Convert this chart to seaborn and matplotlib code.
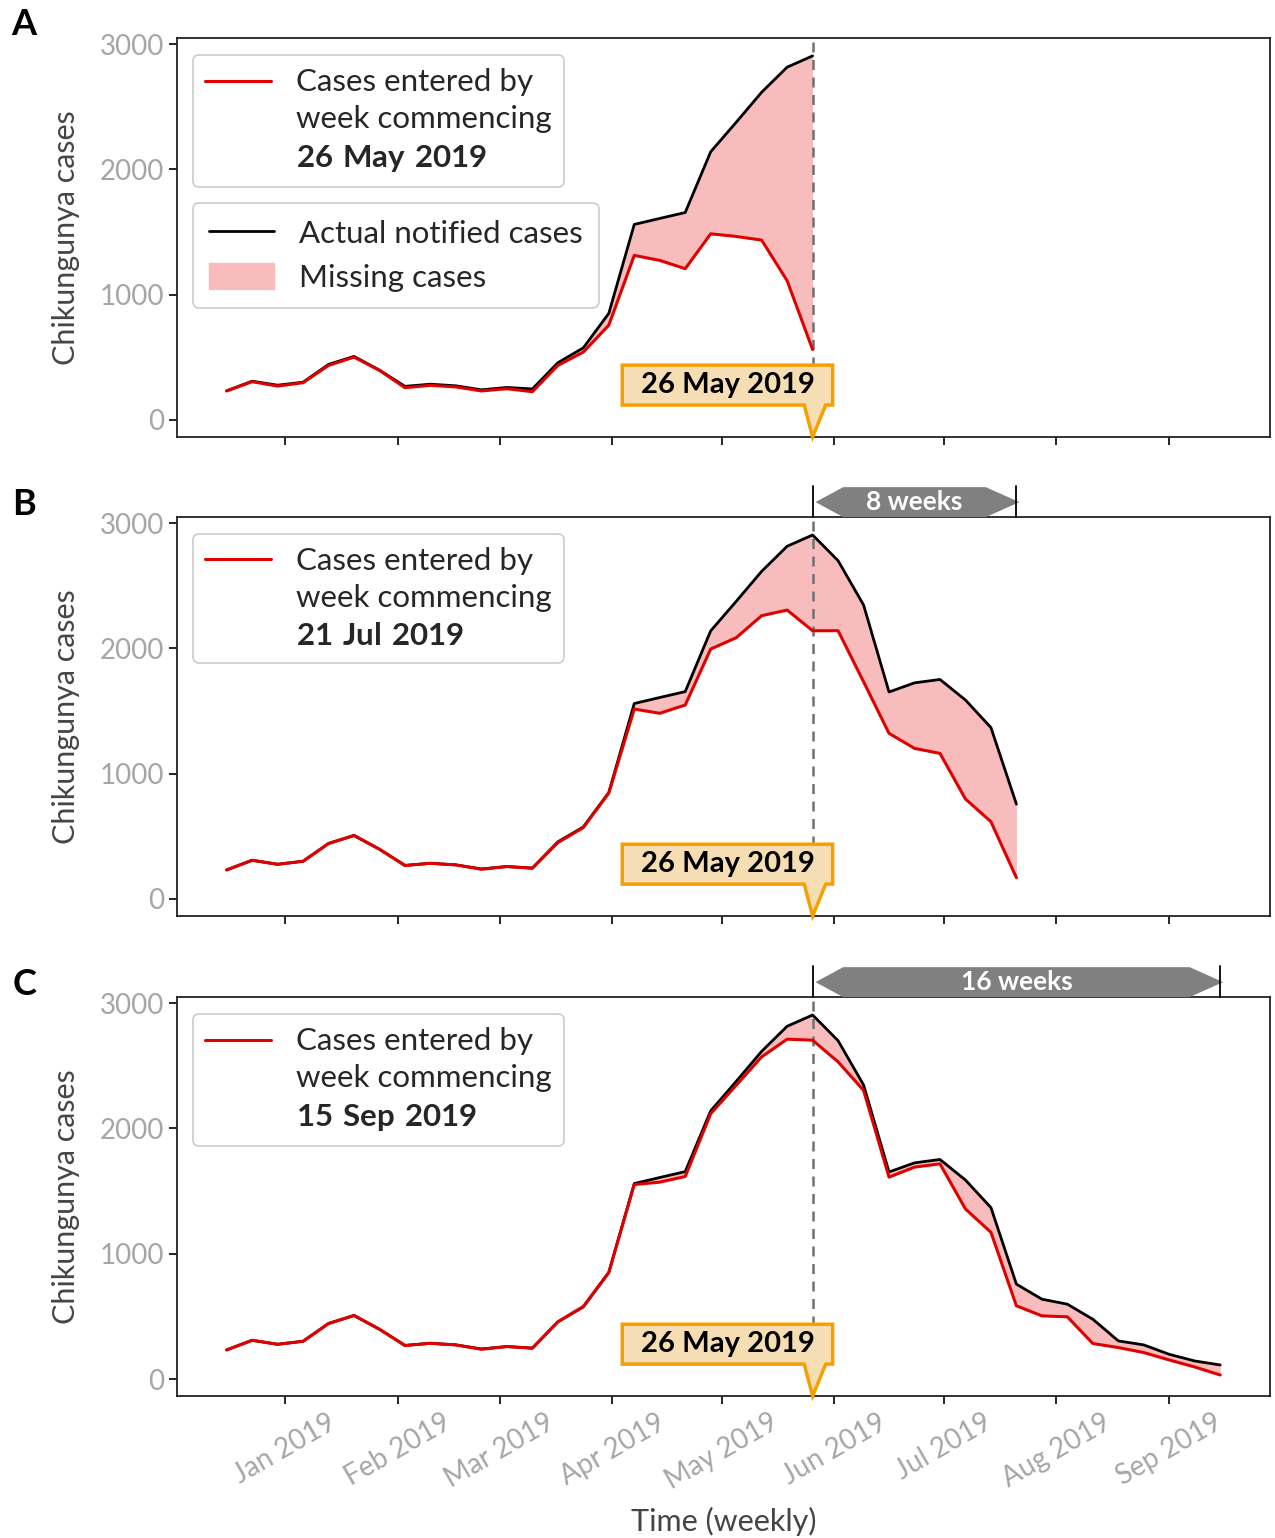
import numpy as np
import pandas as pd
import matplotlib
matplotlib.use('Agg')
import matplotlib.pyplot as plt
import matplotlib.dates as mdates
import matplotlib.transforms as mtransforms
from matplotlib.patches import Polygon, Patch
from matplotlib.lines import Line2D
from matplotlib.legend_handler import HandlerLine2D
import seaborn as sns

# ---------------- data ----------------
weeks = pd.date_range('2018-12-16', periods=40, freq='7D')

actual = [232, 309, 277, 301, 443, 507, 397, 268, 285, 272,
          240, 259, 247, 456, 575, 850, 1560, 1608, 1655, 2140,
          2375, 2615, 2815, 2905, 2700, 2347, 1652, 1725, 1752, 1588,
          1368, 757, 637, 597, 477, 304, 272, 197, 144, 112]

entered_26may = [231, 305, 270, 297, 435, 501, 395, 257, 276, 263,
                 231, 249, 225, 435, 541, 756, 1313, 1273, 1207, 1485,
                 1464, 1435, 1111, 562]

entered_21jul = [232, 309, 277, 301, 443, 507, 397, 267, 285, 272,
                 237, 259, 245, 450, 570, 845, 1516, 1482, 1548, 1995,
                 2085, 2261, 2306, 2141, 2141, 1734, 1322, 1202, 1162, 798,
                 617, 170]

entered_15sep = [232, 309, 277, 301, 443, 507, 397, 267, 285, 272,
                 237, 259, 245, 456, 579, 850, 1552, 1571, 1616, 2117,
                 2344, 2571, 2712, 2704, 2531, 2304, 1611, 1691, 1717, 1357,
                 1171, 584, 504, 496, 283, 251, 211, 152, 96, 32]

panel_letters = ['A', 'B', 'C']
report_dates = ['26 May 2019', '21 Jul 2019', '15 Sep 2019']
entered_series = [entered_26may, entered_21jul, entered_15sep]
weeks_after = [0, 8, 16]
cutoff_label = '26 May 2019'
cutoff = pd.Timestamp('2019-05-26')
month_ticks = pd.date_range('2019-01-01', '2019-09-01', freq='MS')
y_ticks = [0, 1000, 2000, 3000]

# ---------------- style ----------------
sns.set_style('ticks')
plt.rcParams['font.family'] = ['Lato', 'DejaVu Sans']
plt.rcParams['mathtext.fontset'] = 'custom'
plt.rcParams['mathtext.rm'] = 'Lato'
plt.rcParams['mathtext.bf'] = 'Lato:bold'

RED = '#e00000'
FILL = '#f8bcbd'
TICKGRAY = '#a6a6a6'
LABELGRAY = '#454545'


class TopLineHandler(HandlerLine2D):
    """Place the legend line next to the first text line."""
    def __init__(self, shift, **kw):
        super().__init__(**kw)
        self.shift = shift

    def create_artists(self, legend, orig_handle, xdescent, ydescent, width,
                       height, fontsize, trans):
        arts = super().create_artists(legend, orig_handle, xdescent, ydescent,
                                      width, height, fontsize, trans)
        for a in arts:
            a.set_ydata(np.asarray(a.get_ydata()) + self.shift)
        return arts


fig = plt.figure(figsize=(12.75, 15.38), dpi=100)
ax_left, ax_w, ax_h = 0.1388, 0.996 - 0.1388, 0.2594
bottoms = [0.7159, 0.4044, 0.0923]
axes = []
for i, b in enumerate(bottoms):
    ax = fig.add_axes([ax_left, b, ax_w, ax_h], sharex=axes[0] if axes else None)
    axes.append(ax)

cut_num = mdates.date2num(cutoff)
span = mdates.date2num(weeks[-1]) - mdates.date2num(weeks[0])
x_lo = mdates.date2num(weeks[0]) - 0.05 * span
x_hi = mdates.date2num(weeks[-1]) + 0.05 * span

for k, ax in enumerate(axes):
    red = np.array(entered_series[k], dtype=float)
    n = len(red)
    x = weeks[:n]
    act = np.array(actual[:n], dtype=float)

    ax.fill_between(x, red, act, color=FILL, lw=0, zorder=1)
    sns.lineplot(x=x, y=act, ax=ax, color='black', lw=2.0, zorder=3, legend=False)
    sns.lineplot(x=x, y=red, ax=ax, color=RED, lw=2.2, zorder=4, legend=False)

    ax.axvline(cutoff, color='#707070', ls='--', lw=1.8, zorder=2, dashes=(4, 3))

    ax.set_ylim(-136, 3048)
    ax.set_xlim(x_lo, x_hi)
    ax.set_yticks(y_ticks)
    ax.set_xticks(month_ticks)
    ax.xaxis.set_major_formatter(mdates.DateFormatter('%b %Y'))
    ax.tick_params(axis='both', colors='black', labelcolor=TICKGRAY,
                   labelsize=20, length=6, width=1.2, direction='out')
    for sp in ax.spines.values():
        sp.set_visible(True)
        sp.set_color('#222222')
        sp.set_linewidth(1.3)
    ax.set_ylabel('Chikungunya cases', fontsize=22, color=LABELGRAY, labelpad=14)
    ax.set_xlabel('')

    # legends
    h1 = Line2D([], [], color=RED, lw=2.2)
    lab1 = 'Cases entered by\nweek commencing\n' + r'$\mathbf{' + report_dates[k].replace(' ', r'\ ') + '}$'
    leg1 = ax.legend([h1], [lab1], loc='upper left', bbox_to_anchor=(0.0146, 0.957),
                     fontsize=22.5, frameon=True, fancybox=True, edgecolor='#cccccc',
                     framealpha=1, handlelength=2.1, handletextpad=0.8, borderaxespad=0,
                     borderpad=0.4, handler_map={h1: TopLineHandler(shift=29)})
    leg1.get_texts()[0].set_linespacing(1.42)
    leg1.get_frame().set_linewidth(1.2)
    if k == 0:
        ax.add_artist(leg1)
        h2 = Line2D([], [], color='black', lw=2.0)
        h3 = Patch(facecolor=FILL, edgecolor=FILL)
        leg2 = ax.legend([h2, h3], ['Actual notified cases', 'Missing cases'],
                         loc='upper left', bbox_to_anchor=(0.0146, 0.586),
                         fontsize=22.5, frameon=True, fancybox=True, edgecolor='#cccccc',
                         framealpha=1, handlelength=2.1, handletextpad=0.8,
                         borderaxespad=0, borderpad=0.5, handleheight=0.9)
        leg2.get_frame().set_linewidth(1.2)

    # callout box with pointer
    trans = mtransforms.blended_transform_factory(ax.transData, ax.transAxes)
    yb, yt = 0.08, 0.18
    verts = [(cut_num - 52.3, yb), (cut_num - 52.3, yt), (cut_num + 5.5, yt),
             (cut_num + 5.5, yb), (cut_num + 3.6, yb), (cut_num, 0.0),
             (cut_num - 2.3, yb)]
    poly = Polygon(verts, closed=True, transform=trans, facecolor='#f5deb3',
                   edgecolor='#f5a000', lw=2.5, zorder=6, clip_on=False,
                   joinstyle='miter')
    ax.add_patch(poly)
    ax.text(cut_num - 23.4, (yb + yt) / 2, cutoff_label, transform=trans,
            ha='center', va='center', fontsize=21, fontweight='bold',
            color='black', zorder=7)

    # weeks arrow above panel
    if weeks_after[k] > 0:
        end_num = cut_num + 7 * weeks_after[k]
        y0, y1 = 1.0, 1.075
        ym = (y0 + y1) / 2
        tip = 8.4
        arrow = [(cut_num + 0.8, ym), (cut_num + tip, y1), (end_num - tip, y1),
                 (end_num + 0.8, ym), (end_num - tip, y0), (cut_num + tip, y0)]
        ax.add_patch(Polygon(arrow, closed=True, transform=trans, facecolor='#808080',
                             edgecolor='none', zorder=5, clip_on=False))
        for xv in (cut_num, end_num):
            ax.add_line(Line2D([xv, xv], [1.0, 1.078], transform=trans, color='black',
                               lw=1.3, clip_on=False, zorder=6))
        ax.text((cut_num + end_num) / 2, ym, f'{weeks_after[k]} weeks', transform=trans,
                ha='center', va='center', fontsize=19, fontweight='bold',
                color='white', zorder=7)

    fig.text(0.019, [0.984, 0.672, 0.3596][k], panel_letters[k], fontsize=26,
             fontweight='bold', ha='center', va='center', color='black')

for ax in axes[:-1]:
    plt.setp(ax.get_xticklabels(), visible=False)
for lbl in axes[-1].get_xticklabels():
    lbl.set_rotation(30)
    lbl.set_ha('center')
axes[-1].set_xlabel('Time (weekly)', fontsize=22, color=LABELGRAY, labelpad=9)

fig.savefig('out.png', dpi=100)
